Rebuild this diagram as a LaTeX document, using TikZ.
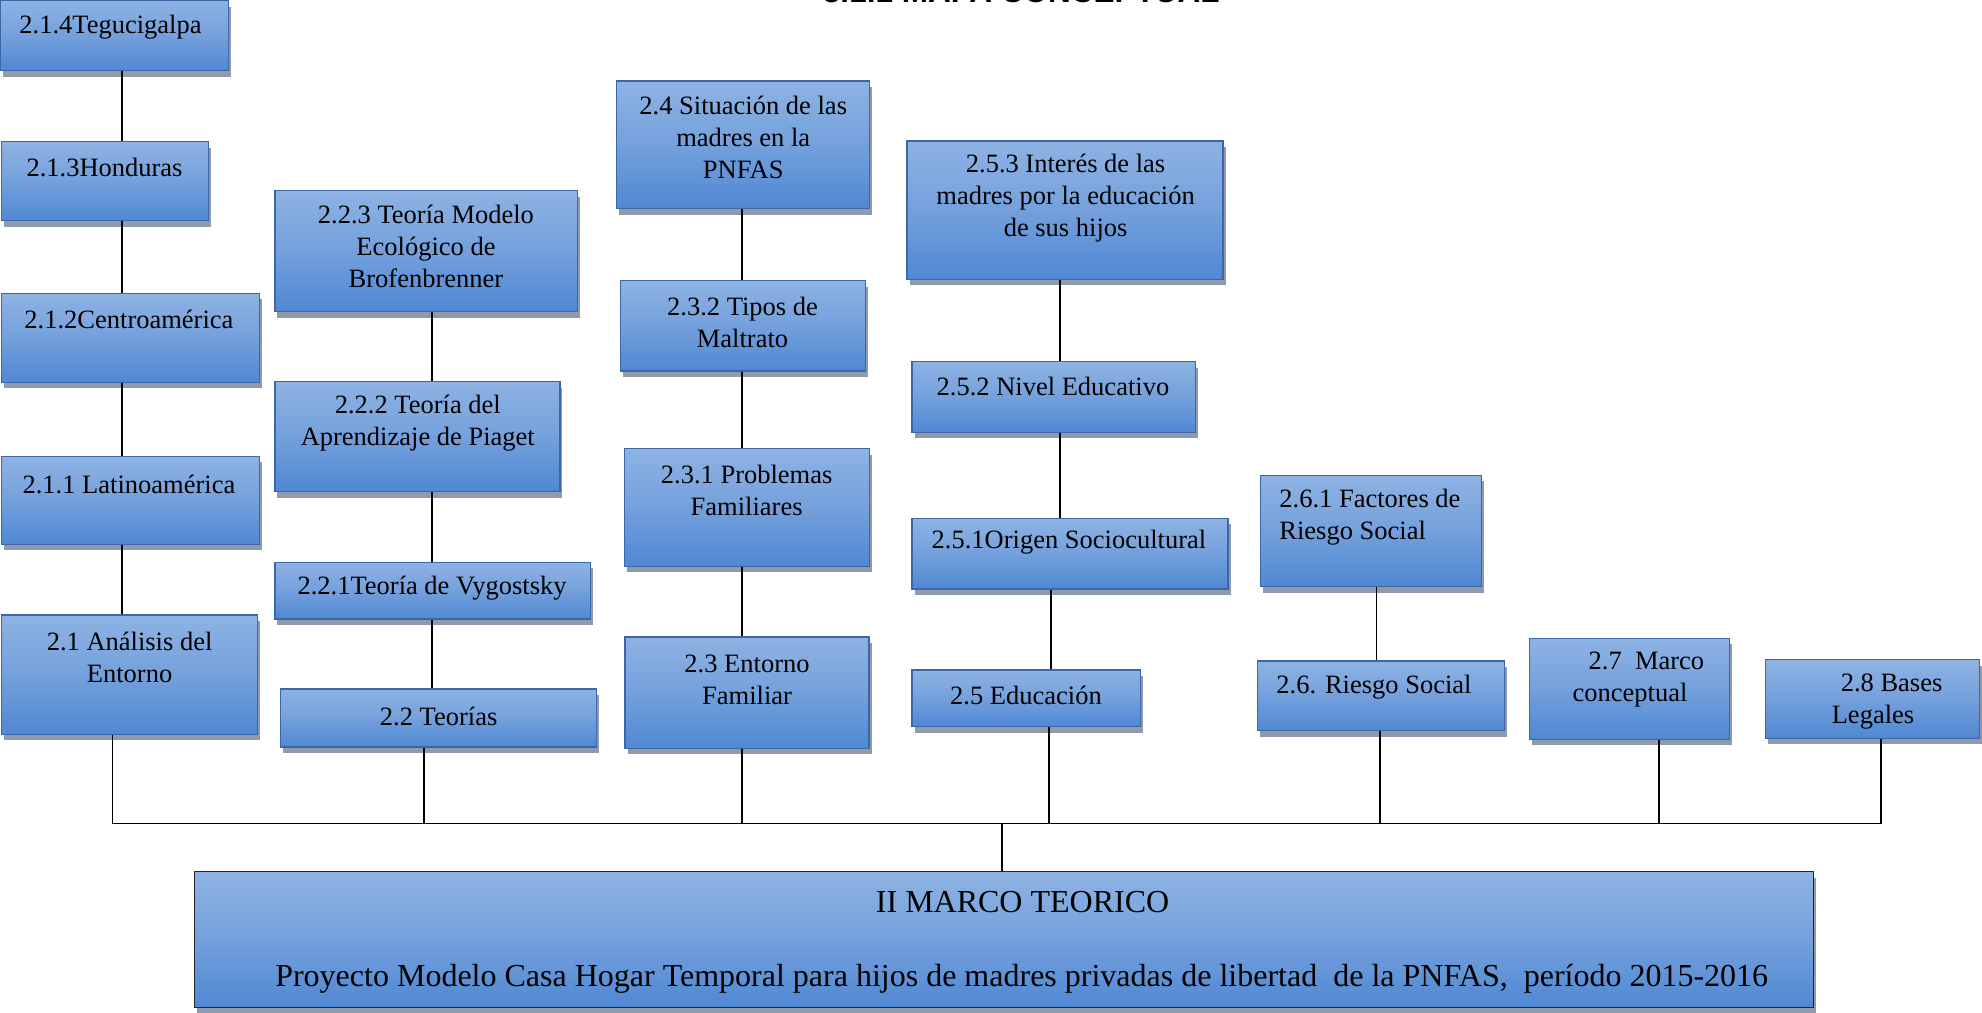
\documentclass[tikz,border=0pt]{standalone}
\usepackage{fontspec}
\setmainfont{Liberation Serif}
\newfontfamily\titfont{Liberation Sans}
\usetikzlibrary{fit,shadows}
\definecolor{cajaarriba}{HTML}{8EB3E3}
\definecolor{cajamedio}{HTML}{74A0DC}
\definecolor{cajaabajo}{HTML}{4F88D3}
\definecolor{cajaborde}{HTML}{3B67A8}
\definecolor{sombra}{HTML}{8F9BAC}
\tikzset{
  caja/.style={draw=cajaborde,line width=1.2pt,top color=cajaarriba,bottom color=cajaabajo,middle color=cajamedio,
    inner sep=0pt,drop shadow={shadow xshift=2.5pt,shadow yshift=-6pt,fill=sombra,opacity=1}},
  txt/.style={align=center,inner sep=0pt,font=\fontsize{26.5}{32}\selectfont},
  txtgrande/.style={align=center,inner sep=0pt,font=\fontsize{32}{38}\selectfont},
  linea/.style={line width=1.8pt,black}
}
\begin{document}
\begin{tikzpicture}[x=1.264pt,y=-1.264pt]
	\path[use as bounding box] (0,0) rectangle (1568,801);
	\clip (0,0) rectangle (1568,801);
	\node[anchor=base,inner sep=0pt,font=\titfont\bfseries\fontsize{31.5}{36}\selectfont] (titulo) at (808,2.1) {3.1.1 MAPA CONCEPTUAL};
	% columna 2.1
	\node[caja,fit={(0.5,0.5) (181,56)}] (teg) {};
	\node[caja,fit={(1,112) (165,174.6)}] (hon) {};
	\node[caja,fit={(1,232) (205,302.5)}] (cen) {};
	\node[caja,fit={(1,361) (205,430.5)}] (lat) {};
	\node[caja,fit={(1,486.6) (204,581)}] (ana) {};
	\node[txt] (teg-t) at (87.4,21.6) {2.1.4Tegucigalpa};
	\node[txt] (hon-t) at (82.7,132.7) {2.1.3Honduras};
	\node[txt] (cen-t) at (102,253) {2.1.2Centroamérica};
	\node[txt] (lat-t) at (102,383) {2.1.1 Latinoamérica};
	\node[txt] (ana-t) at (102.5,520) {2.1 Análisis del\\Entorno};
	% columna 2.2
	\node[caja,fit={(217.5,151) (457,246.6)}] (eco) {};
	\node[caja,fit={(217.5,302) (443,389)}] (pia) {};
	\node[caja,fit={(217.5,444.7) (467,489.7)}] (vyg) {};
	\node[caja,fit={(222,545) (472,591)}] (teo) {};
	\node[txt] (eco-t) at (337,195) {2.2.3 Teoría Modelo\\Ecológico de\\Brofenbrenner};
	\node[txt] (pia-t) at (330.5,334.6) {2.2.2 Teoría del\\Aprendizaje de Piaget};
	\node[txt] (vyg-t) at (341.8,465.4) {2.2.1Teoría de Vygostsky};
	\node[txt] (teo-t) at (347,567) {2.2 Teorías};
	% columna 2.3 y 2.4
	\node[caja,fit={(488,64) (688,165)}] (sit) {};
	\node[caja,fit={(491,222) (685,293.5)}] (tip) {};
	\node[caja,fit={(494,355) (688,448)}] (pro) {};
	\node[caja,fit={(494.5,504) (687.5,592)}] (ent) {};
	\node[txt] (sit-t) at (588,109) {2.4 Situación de las\\madres en la\\PNFAS};
	\node[txt] (tip-t) at (587.4,255) {2.3.2 Tipos de\\Maltrato};
	\node[txt] (pro-t) at (590.7,388) {2.3.1 Problemas\\Familiares};
	\node[txt] (ent-t) at (591,538) {2.3 Entorno\\Familiar};
	% columna 2.5
	\node[caja,fit={(717.6,111.5) (967.6,221)}] (int) {};
	\node[caja,fit={(721.5,286) (945.5,342)}] (niv) {};
	\node[caja,fit={(721.5,410) (971.5,466)}] (ori) {};
	\node[caja,fit={(721.5,530) (902,575)}] (edu) {};
	\node[txt] (int-t) at (843,156.5) {2.5.3 Interés de las\\madres por la educación\\de sus hijos};
	\node[txt] (niv-t) at (833,306) {2.5.2 Nivel Educativo};
	\node[txt] (ori-t) at (845.7,429) {2.5.1Origen Sociocultural};
	\node[txt] (edu-t) at (811.7,550) {2.5 Educación};
	% 2.6, 2.7, 2.8
	\node[caja,fit={(997,376) (1172,464)}] (fac) {};
	\node[caja,fit={(995,523) (1190,578)}] (rie) {};
	\node[caja,fit={(1210,505) (1368,585)}] (mar) {};
	\node[caja,fit={(1397,522) (1566,584)}] (bas) {};
	\node[txt,align=left,anchor=west] (fac-t) at (1012,409.5) {2.6.1 Factores de\\Riesgo Social};
	\node[txt] (rie-t) at (1087,544) {2.6. Riesgo Social};
	\node[txt,align=left,anchor=west] (mar-t) at (1244,537.5) {\hspace*{16pt}2.7~~Marco\\conceptual};
	\node[txt,align=left,anchor=west] (bas-t) at (1449,555) {\hspace*{9pt}2.8 Bases\\Legales};
	% tema central
	\node[caja,draw=black!85,fit={(154,689.6) (1434.5,797)}] (tema) {};
	\node[txtgrande] (tema-t) at (809,714) {II MARCO TEORICO};
	\node[txtgrande] (tema-p) at (808.3,774) {Proyecto Modelo Casa Hogar Temporal para hijos de madres privadas de libertad~ de la PNFAS,~ período 2015-2016};
	% ejes de las cadenas
	\coordinate (k1) at (96.3,0);
	\coordinate (k2) at (341.5,0);
	\coordinate (k3) at (587,0);
	\coordinate (k4) at (838.6,0);
	\coordinate (k5) at (831.5,0);
	\coordinate (k6) at (1089,0);
	\draw[linea] (teg.south -| k1) -- (hon.north -| k1) (hon.south -| k1) -- (cen.north -| k1)
		(cen.south -| k1) -- (lat.north -| k1) (lat.south -| k1) -- (ana.north -| k1);
	\draw[linea] (eco.south -| k2) -- (pia.north -| k2) (pia.south -| k2) -- (vyg.north -| k2)
		(vyg.south -| k2) -- (teo.north -| k2);
	\draw[linea] (sit.south -| k3) -- (tip.north -| k3) (tip.south -| k3) -- (pro.north -| k3)
		(pro.south -| k3) -- (ent.north -| k3);
	\draw[linea] (int.south -| k4) -- (niv.north -| k4) (niv.south -| k4) -- (ori.north -| k4)
		(ori.south -| k5) -- (edu.north -| k5);
	\draw[linea] (fac.south -| k6) -- (rie.north -| k6);
	% barra inferior
	\coordinate (b1) at (89,651.5);
	\coordinate (b2) at (335.5,651.5);
	\coordinate (b3) at (587,651.5);
	\coordinate (b4) at (830,651.5);
	\coordinate (b5) at (1092,651.5);
	\coordinate (b6) at (1312.6,651.5);
	\coordinate (b7) at (1488,651.5);
	\coordinate (bm) at (792.7,651.5);
	\draw[linea] (b1) -- (b7);
	\draw[linea] (ana.south -| b1) -- (b1) (teo.south -| b2) -- (b2) (ent.south -| b3) -- (b3)
		(edu.south -| b4) -- (b4) (rie.south -| b5) -- (b5) (mar.south -| b6) -- (b6)
		(bas.south -| b7) -- (b7);
	\draw[linea] (tema.north -| bm) -- (bm);
\end{tikzpicture}
\end{document}
